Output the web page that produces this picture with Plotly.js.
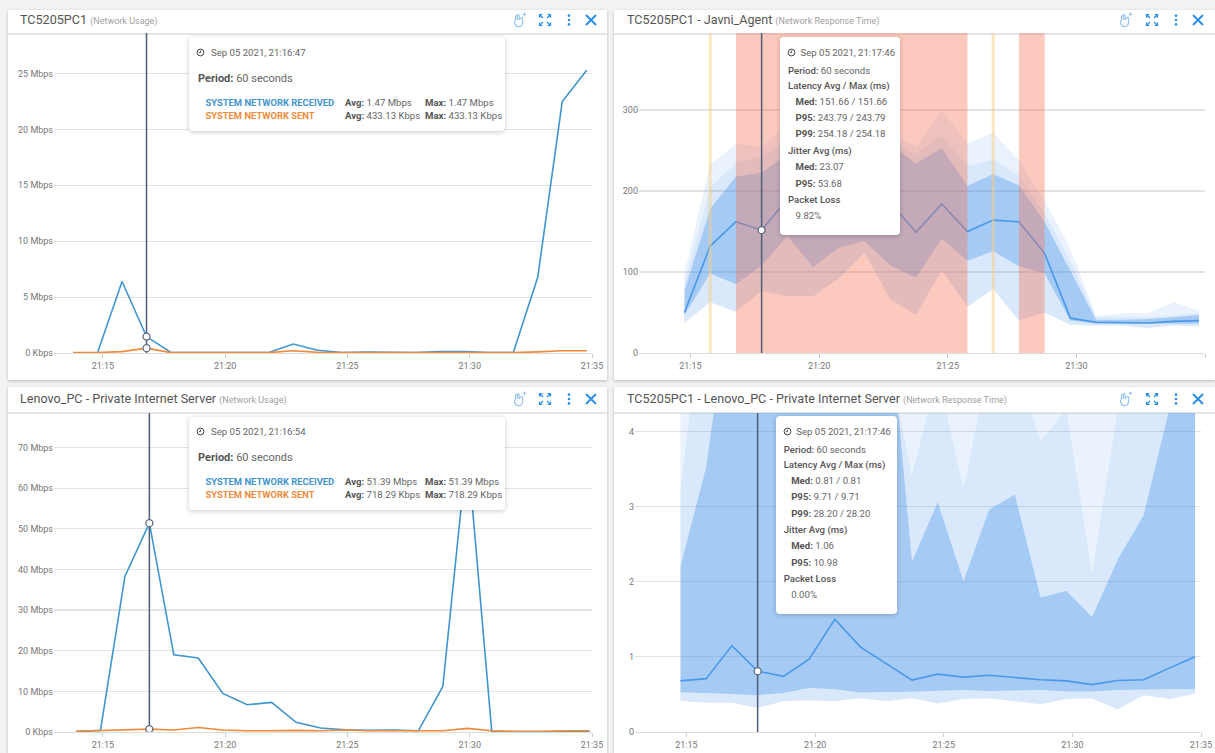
<!DOCTYPE html>
<html><head><meta charset="utf-8">
<script src="https://cdn.plot.ly/plotly-3.0.1.min.js"></script>
<style>
html,body{margin:0;padding:0;width:1215px;height:753px;overflow:hidden;background:#f2f4f4;font-family:Roboto,sans-serif}
.card{position:absolute;background:#fff;box-shadow:0 1px 3px rgba(0,0,0,.25);overflow:hidden}
.head{position:absolute;left:0;right:0;height:2px;background:#e4e6e6}
.plot{position:absolute;left:0;top:0}
.icons{position:absolute;top:0;width:0;height:0}
.tip{position:absolute;background:#fff;border-radius:4px;box-shadow:0 1px 5px rgba(0,0,0,.22);color:#666;font-size:9.6px}
.tip div{position:absolute;white-space:nowrap;line-height:12px;transform:translateY(-6px)}
.tip b{font-weight:500;color:#555}
svg.ic{position:absolute}
</style></head><body>
<div id="root"></div>
<script>
// ---- time stamps
const timesA=['21:13:47','21:14:47','21:15:47','21:16:47','21:17:47','21:18:47','21:19:47','21:20:47','21:21:47','21:22:47','21:23:47','21:24:47','21:25:47','21:26:47','21:27:47','21:28:47','21:29:47','21:30:47','21:31:47','21:32:47','21:33:47','21:34:47'];
const timesC=['21:13:54','21:14:54','21:15:54','21:16:54','21:17:54','21:18:54','21:19:54','21:20:54','21:21:54','21:22:54','21:23:54','21:24:54','21:25:54','21:26:54','21:27:54','21:28:54','21:29:54','21:30:54','21:31:54','21:32:54','21:33:54','21:34:54'];
const timesB=['21:14:46','21:15:46','21:16:46','21:17:46','21:18:46','21:19:46','21:20:46','21:21:46','21:22:46','21:23:46','21:24:46','21:25:46','21:26:46','21:27:46','21:28:46','21:29:46','21:30:46','21:31:46','21:32:46','21:33:46','21:34:46'];
const xTicks=['21:15','21:20','21:25','21:30','21:35'];
// ---- panel 1 (Mbps)
const recv1=[0.02,0.05,6.4,1.47,0.05,0.03,0.03,0.03,0.05,0.8,0.25,0.05,0.08,0.06,0.05,0.12,0.14,0.05,0.05,6.8,22.5,25.3];
const sent1=[0.05,0.05,0.12,0.433,0.03,0.03,0.03,0.03,0.03,0.2,0.06,0.03,0.03,0.03,0.03,0.03,0.03,0.03,0.03,0.1,0.2,0.2];
const yVals1=[0,5,10,15,20,25];
const yText1=['0 Kbps','5 Mbps','10 Mbps','15 Mbps','20 Mbps','25 Mbps'];
// ---- panel 3 (Mbps)
const recv3=[0.1,0.4,38.3,51.39,19,18.2,9.5,6.7,7.3,2.4,1,0.55,0.4,0.5,0.3,11.2,70,0.2,0.1,0.1,0.1,0.1];
const sent3=[0.2,0.4,0.7,0.718,0.5,1.1,0.5,0.3,0.3,0.4,0.3,0.5,0.3,0.3,0.2,0.3,0.9,0.3,0.1,0.1,0.3,0.3];
const yVals3=[0,10,20,30,40,50,60,70];
const yText3=['0 Kbps','10 Mbps','20 Mbps','30 Mbps','40 Mbps','50 Mbps','60 Mbps','70 Mbps'];
// ---- panel 2 (ms)
const med2=[50,132,162,151.66,190,175,170,185,186,149,184,150,164,162,123,43,38,37.5,37,39,40];
const darkUp2=[77,178,218,222.6,246,255,270,258,258,234,253,206,221,207,162,102,41,41,42,44,47];
const midUp2=[85,205,234,243.79,260,267,279,271,262,246,267,231,239,219,172,114,44,44,44,46,49];
const lightUp2=[98,233,258,254.18,283,291,295,291,271,255,300,259,272,238,188,129,46,49,49,63,52];
const darkLow2=[46.5,98,85,108,144,106,130,138,108,93,141,114,125.5,107,98,40,36,36,36,36,36];
const midLow2=[37,62.5,51,76.5,70,70,92,124,66,47,102,57,79,40,50,35,34,34,31,34,33];
const redStart2=['21:16:46','21:27:46'];
const redEnd2=['21:25:46','21:28:46'];
const amberAt2=['21:15:46','21:26:46'];
const yVals2=[0,100,200,300];
// ---- panel 4 (ms)
const med4=[0.68,0.71,1.15,0.81,0.74,0.97,1.5,1.13,0.91,0.69,0.77,0.73,0.755,0.72,0.695,0.68,0.63,0.685,0.695,0.85,1.0];
const darkUp4=[2.2,3.53,6,8,8,6,7,6,6,2.27,3.06,2.01,2.96,3.16,1.79,1.88,1.53,2.3,2.88,4.3,6];
const midUp4=[3.2,6.1,8,9.71,10,9,9,8,5.08,3.42,4.77,3.23,4.95,4.9,3.87,4.3,2.11,4.3,6,8,8];
const lightUp4=[5.5,12,20,28.2,20,20,20,20,16,12,12,12,12,12,12,12,12,12,12,12,12];
const darkLow4=[0.53,0.52,0.505,0.49,0.52,0.585,0.57,0.525,0.53,0.535,0.55,0.56,0.545,0.55,0.56,0.54,0.54,0.56,0.57,0.57,0.57];
const midLow4=[0.415,0.39,0.39,0.32,0.41,0.42,0.41,0.45,0.41,0.45,0.38,0.44,0.445,0.41,0.37,0.44,0.445,0.30,0.49,0.44,0.51];
const yVals4=[0,1,2,3,4];

const BLUE='#3f95cf', ORANGE='#ee8b3d', AREA='#4a98e8', CROSS='#4d5f78';
const day='2021-09-05 ';
const d=a=>a.map(t=>day+t);
const F={dark:'rgba(66,146,235,.48)',mid:'rgba(66,146,235,.2)',light:'rgba(66,146,235,.11)'};

function axes(range,vals,text,m,w,h){
  return {
    paper_bgcolor:'rgba(0,0,0,0)',plot_bgcolor:'rgba(0,0,0,0)',width:w,height:h,showlegend:false,hovermode:false,
    margin:{l:m.l,r:m.r,t:m.t,b:m.b,pad:0},
    font:{family:'Roboto, sans-serif',size:9,color:'#777'},
    xaxis:{type:'date',range:[day+'21:13:00',day+'21:35:00'],tickmode:'array',tickvals:d(xTicks.map(t=>t+':00')),ticktext:xTicks,
      showgrid:false,zeroline:false,showline:true,linecolor:'#dcdcdc',linewidth:1.2,ticks:'outside',ticklen:4,tickcolor:'#d0d0d0',tickwidth:1,tickfont:{size:9,color:'#777'}},
    yaxis:{range:range,tickmode:'array',tickvals:vals,ticktext:text,showgrid:true,gridcolor:'#e3e3e3',gridwidth:1.2,zeroline:false,showline:false,ticks:'',tickfont:{size:9,color:'#777'}}
  };
}
function ln(x,y,c,w){return {x:d(x),y:y,mode:'lines',line:{color:c,width:w},hoverinfo:'skip'};}
function crossTrace(t,range){return {x:d([t,t]),y:[range[0],range[1]],mode:'lines',line:{color:CROSS,width:1.5},hoverinfo:'skip'};}
function dots(t,ys){return {x:d(ys.map(()=>t)),y:ys,mode:'markers',marker:{size:7,color:'#fff',line:{color:'#5a6a7e',width:1.3}},hoverinfo:'skip'};}
function fills(x,low2,low1,up1,up2,up3){
  const f=(y,c)=>({x:d(x),y:y,mode:'lines',line:{width:0,color:'rgba(0,0,0,0)'},fill:c?'tonexty':'none',fillcolor:c||undefined,hoverinfo:'skip'});
  return [f(low2),f(low1,F.mid),f(up1,F.dark),f(up2,F.mid),f(up3,F.light)];
}
function bands(starts,ends,top){
  return starts.map((s,i)=>({x:d([s,s,ends[i],ends[i]]),y:[0,top,top,0],mode:'lines',line:{width:0,color:'rgba(0,0,0,0)'},fill:'toself',fillcolor:'rgba(247,112,85,.38)',hoverinfo:'skip'}));
}
function ambers(at,top){
  return at.map(t=>({x:d([t,t]),y:[0,top],mode:'lines',line:{color:'rgba(250,205,130,.5)',width:3},hoverinfo:'skip'}));
}

const clock='<svg class="ic" width="9" height="9" viewBox="0 0 9 9" style="left:CXpx;top:CYpx"><circle cx="4.5" cy="4.5" r="3.4" fill="none" stroke="#444" stroke-width="1"/><path d="M4.5 2.6V4.6H2.8" fill="none" stroke="#444" stroke-width=".9"/></svg>';
function icons(xs,y){
  const blue='#2b8fe6';
  return '<svg class="ic" width="18" height="18" viewBox="0 0 18 18" style="left:'+(xs[0]-9)+'px;top:'+(y-9)+'px"><path d="M4.5 9.5V5.5c0-1.3 1.8-1.3 1.8 0V9M6.3 9V4.5c0-1.3 1.8-1.3 1.8 0V9M8.1 9l2-2.2c.9-.9 2.1.1 1.5 1.2M4.5 9.5c-1.2.3-1.2 2-.7 3.2.7 1.9 2 3 4 3 3 0 4.2-2.5 3.9-7.7" fill="none" stroke="#8fc1ef" stroke-width="1.1"/><path d="M13.5 1.5v3.4M11.8 3.2h3.4" stroke="#8fc1ef" stroke-width="1"/></svg>'
  +'<svg class="ic" width="14" height="14" viewBox="0 0 14 14" style="left:'+(xs[1]-7)+'px;top:'+(y-7)+'px"><path d="M1.5 4.5V1.5H4.5M9.5 1.5H12.5V4.5M12.5 9.5V12.5H9.5M4.5 12.5H1.5V9.5M2 2L5 5M12 2L9 5M12 12L9 9M2 12L5 9" fill="none" stroke="'+blue+'" stroke-width="1.2"/></svg>'
  +'<svg class="ic" width="6" height="14" viewBox="0 0 6 14" style="left:'+(xs[2]-3)+'px;top:'+(y-7)+'px"><circle cx="3" cy="2.6" r="1.3" fill="'+blue+'"/><circle cx="3" cy="7" r="1.3" fill="'+blue+'"/><circle cx="3" cy="11.4" r="1.3" fill="'+blue+'"/></svg>'
  +'<svg class="ic" width="14" height="14" viewBox="0 0 14 14" style="left:'+(xs[3]-7)+'px;top:'+(y-7)+'px"><path d="M2 2L12 12M12 2L2 12" stroke="'+blue+'" stroke-width="2"/></svg>';
}
function usageTip(box,rows){
  const Y=v=>v-box.y;const X=v=>v-box.x;
  return '<div class="tip" style="left:'+box.x+'px;top:'+box.y+'px;width:'+box.w+'px;height:'+box.h+'px">'
   +clock.replace('CX',X(196)).replace('CY',Y(rows.y0-4.5))
   +'<div style="left:'+X(211)+'px;top:'+Y(rows.y0)+'px">'+rows.date+'</div>'
   +'<div style="left:'+X(198)+'px;top:'+Y(rows.y1)+'px;font-size:11px"><b style="font-weight:700">Period:</b> 60 seconds</div>'
   +'<div style="left:'+X(205.5)+'px;top:'+Y(rows.y2)+'px;color:'+BLUE+';font-weight:700;font-size:9.4px">SYSTEM NETWORK RECEIVED</div>'
   +'<div style="left:'+X(205.5)+'px;top:'+Y(rows.y3)+'px;color:'+ORANGE+';font-weight:700;font-size:9.4px">SYSTEM NETWORK SENT</div>'
   +'<div style="left:'+X(345)+'px;top:'+Y(rows.y2)+'px"><b style="font-weight:700">Avg:</b> '+rows.r+'</div>'
   +'<div style="left:'+X(425)+'px;top:'+Y(rows.y2)+'px"><b style="font-weight:700">Max:</b> '+rows.r+'</div>'
   +'<div style="left:'+X(345)+'px;top:'+Y(rows.y3)+'px"><b style="font-weight:700">Avg:</b> '+rows.s+'</div>'
   +'<div style="left:'+X(425)+'px;top:'+Y(rows.y3)+'px"><b style="font-weight:700">Max:</b> '+rows.s+'</div></div>';
}
function latTip(box,t){
  const Y=v=>v-box.y, x0=box.tx-box.x, x1=x0+7.5;
  const o=t.o;
  const row=(x,y,h)=>'<div style="left:'+x+'px;top:'+Y(y)+'px">'+h+'</div>';
  return '<div class="tip" style="left:'+box.x+'px;top:'+box.y+'px;width:'+box.w+'px;height:'+box.h+'px">'
   +clock.replace('CX',x0-1).replace('CY',Y(o[0]-4.5))
   +row(x0+12.5,o[0],t.date)
   +row(x0,o[1],'<b>Period:</b> 60 seconds')
   +row(x0,o[2],'<b>Latency Avg / Max (ms)</b>')
   +row(x1,o[3],'<b style="font-weight:700">Med:</b> '+t.med)
   +row(x1,o[4],'<b style="font-weight:700">P95:</b> '+t.p95)
   +row(x1,o[5],'<b style="font-weight:700">P99:</b> '+t.p99)
   +row(x0,o[6],'<b>Jitter Avg (ms)</b>')
   +row(x1,o[7],'<b style="font-weight:700">Med:</b> '+t.jm)
   +row(x1,o[8],'<b style="font-weight:700">P95:</b> '+t.jp)
   +row(x0,o[9],'<b>Packet Loss</b>')
   +row(x1,o[10],t.loss)+'</div>';
}
function title(main,sub,px,w,py,h){
  return {text:main+' <span style="font-size:9px;color:#a0a0a0">('+sub+')</span>',font:{family:'Roboto, sans-serif',size:12.6,color:'#555'},
    xref:'container',yref:'container',x:px/w,xanchor:'left',y:1-py/h,yanchor:'middle',pad:{t:0,b:0,l:0,r:0}};
}
const panels=[
 {card:[8,10,599,370],head:23,m:{l:46,r:15,t:23,b:27},ic:[519.5,545,569,591],icy:20,tx:12,
  ttl:['TC5205PC1','Network Usage'],range:[0,28.63],vals:yVals1,text:yText1,
  traces:[ln(timesA,recv1,BLUE,1.6),ln(timesA,sent1,ORANGE,1.6),crossTrace('21:16:47',[0,28.63]),dots('21:16:47',[1.47,0.433])],
  tip:()=>usageTip({x:189,y:37,w:316,h:94},{y0:52.5,y1:79,y2:102.5,y3:116,date:'Sep 05 2021, 21:16:47',r:'1.47 Mbps',s:'433.13 Kbps'})},
 {card:[614,10,601,370],head:23,m:{l:25,r:9.5,t:23,b:27},ic:[1126,1151.7,1176,1197.6],icy:20,tx:13,
  ttl:['TC5205PC1 - Javni_Agent','Network Response Time'],range:[0,395],vals:yVals2,text:yVals2.map(String),
  traces:[...fills(timesB,midLow2,darkLow2,darkUp2,midUp2,lightUp2),ln(timesB,med2,AREA,1.6),...ambers(amberAt2,395),...bands(redStart2,redEnd2,395),crossTrace('21:17:46',[0,395]),dots('21:17:46',[151.66])],
  tip:()=>latTip({x:780,y:37,w:120,h:198,tx:788},{o:[52.5,71,85.5,101.5,118,134,151,167,183.5,200,216],date:'Sep 05 2021, 21:17:46',med:'151.66 / 151.66',p95:'243.79 / 243.79',p99:'254.18 / 254.18',jm:'23.07',jp:'53.68',loss:'9.82%'})},
 {card:[8,387,599,366],head:24.5,m:{l:46,r:15,t:26,b:20.7},ic:[519.5,545,569,591],icy:399,tx:12,
  ttl:['Lenovo_PC - Private Internet Server','Network Usage'],range:[0,78.5],vals:yVals3,text:yText3,
  traces:[ln(timesC,recv3,BLUE,1.6),ln(timesC,sent3,ORANGE,1.6),crossTrace('21:16:54',[0,78.5]),dots('21:16:54',[51.39,0.718])],
  tip:()=>usageTip({x:189,y:417,w:316,h:93},{y0:431.7,y1:457.7,y2:481.7,y3:495,date:'Sep 05 2021, 21:16:54',r:'51.39 Mbps',s:'718.29 Kbps'})},
 {card:[614,387,601,366],head:24.5,m:{l:21,r:14,t:26,b:20.7},ic:[1126,1151.7,1176,1197.6],icy:399,tx:13,
  ttl:['TC5205PC1 - Lenovo_PC - Private Internet Server','Network Response Time'],range:[0,4.245],vals:yVals4,text:yVals4.map(String),
  traces:[...fills(timesB,midLow4,darkLow4,darkUp4,midUp4,lightUp4),ln(timesB,med4,AREA,1.6),crossTrace('21:17:46',[0,4.245]),dots('21:17:46',[0.81])],
  tip:()=>latTip({x:776,y:416,w:120.5,h:198,tx:783.7},{o:[431.7,450,464.5,480.5,497,513.5,530,546,562.5,578.5,595],date:'Sep 05 2021, 21:17:46',med:'0.81 / 0.81',p95:'9.71 / 9.71',p99:'28.20 / 28.20',jm:'1.06',jp:'10.98',loss:'0.00%'})}
];
const root=document.getElementById('root');
panels.forEach((p,i)=>{
  const [cx,cy,w,h]=p.card;
  const c=document.createElement('div');c.className='card';
  c.style.cssText='left:'+cx+'px;top:'+cy+'px;width:'+w+'px;height:'+h+'px';
  c.innerHTML='<div class="head" style="top:'+p.head+'px"></div><div class="plot" id="plot'+i+'"></div>';
  root.appendChild(c);
  const lay=axes(p.range,p.vals,p.text,p.m,w,h);
  lay.title=title(p.ttl[0],p.ttl[1],p.tx,w,p.icy-cy,h);
  Plotly.newPlot('plot'+i,p.traces,lay,{displayModeBar:false,staticPlot:true});
  const o=document.createElement('div');
  o.innerHTML=p.tip()+icons(p.ic,p.icy);
  root.appendChild(o);
});
</script></body></html>
